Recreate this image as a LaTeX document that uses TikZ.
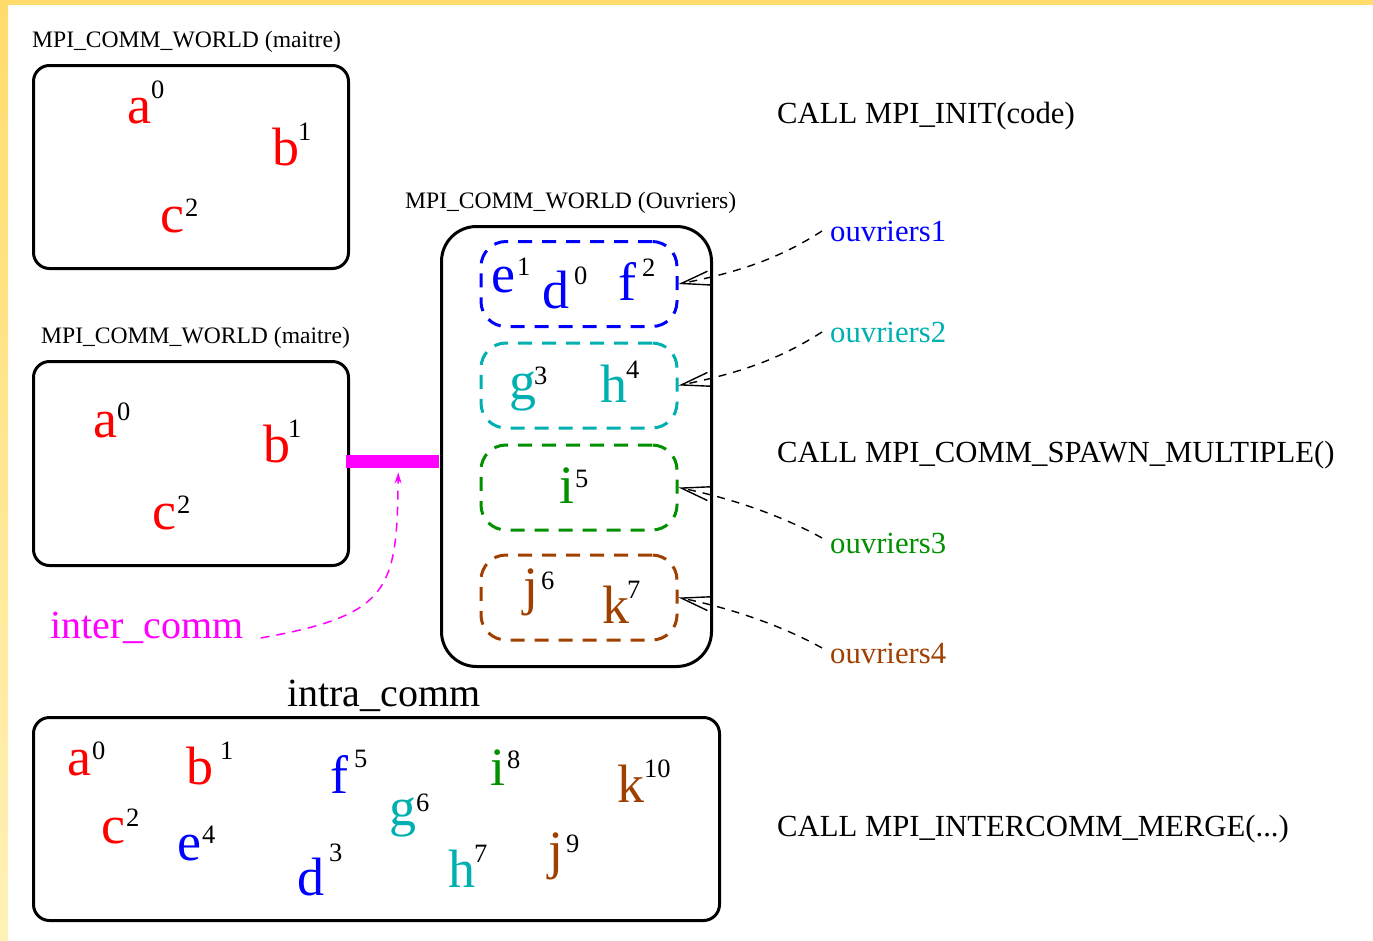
\documentclass[tikz,border=0pt]{standalone}
\usepackage{fontspec}
\setmainfont{Liberation Serif}
\usetikzlibrary{arrows.meta}
\definecolor{fcyan}{HTML}{00B0B0}
\definecolor{fgreen}{HTML}{009000}
\definecolor{fbrown}{HTML}{A04000}
\definecolor{fmagenta}{HTML}{FF00FF}
\definecolor{fyellow}{HTML}{FFDC6C}
\definecolor{fpale}{HTML}{FFF2B8}
\begin{document}
\begin{tikzpicture}[x=1pt,y=-1pt,
  lt/.style={font=\fontsize{54}{54}\selectfont, inner sep=0pt, anchor=base west},
  sp/.style={font=\fontsize{26.5}{27}\selectfont, inner sep=0pt, anchor=base west, text=black},
  wtitle/.style={font=\fontsize{23.6}{24}\selectfont, inner sep=0pt, anchor=base west},
  calltext/.style={font=\fontsize{30.7}{31}\selectfont, inner sep=0pt, anchor=base west},
  bigtext/.style={font=\fontsize{40}{40}\selectfont, inner sep=0pt, anchor=base west},
  comm/.style={draw=black, line width=3pt, rounded corners=16pt, inner sep=0pt, anchor=north west},
  grp/.style={line width=3pt, dash pattern=on 14pt off 10pt, rounded corners=25pt, minimum width=196pt, minimum height=85pt, inner sep=0pt},
  lnk/.style={draw=black, line width=1.4pt, dash pattern=on 8pt off 7pt, -{Straight Barb[length=28pt,width=14pt]}},
]
\useasboundingbox (0,0) rectangle (1373,940);
\fill[white] (0,0) rectangle (1373,940);
\fill[fyellow] (0,0) rectangle (1373,5);
\shade[top color=fyellow, bottom color=fpale] (0,0) rectangle (8,940);

% ---- box 1: MPI_INIT
\node[wtitle] (l1) at (32,47) {MPI\_COMM\_WORLD (maitre)};
\node[comm, minimum width=315pt, minimum height=203pt] (w1) at (32,64) {};
\node[lt, text=red] (a1) at (127,123) {a}; \node[sp] (a1s) at (151,98) {0};
\node[lt, text=red] (b1) at (272,165) {b}; \node[sp] (b1s) at (298,140) {1};
\node[lt, text=red] (c1) at (160,232) {c}; \node[sp] (c1s) at (185,216) {2};
\node[calltext] (call1) at (777,123) {CALL MPI\_INIT(code)};

% ---- box 2: master after spawn
\node[wtitle] (l2) at (41,343) {MPI\_COMM\_WORLD (maitre)};
\node[comm, minimum width=315pt, minimum height=204pt] (w2) at (32,360) {};
\node[lt, text=red] (a2) at (93,437) {a}; \node[sp] (a2s) at (117,420) {0};
\node[lt, text=red] (b2) at (263,462) {b}; \node[sp] (b2s) at (288,437) {1};
\node[lt, text=red] (c2) at (152,529) {c}; \node[sp] (c2s) at (177,513) {2};

% ---- inter communicator bar
\node[fill=fmagenta, minimum width=93pt, minimum height=13pt, inner sep=0pt, anchor=north west] (bar) at (346,455) {};
\node[bigtext, text=fmagenta] (ic) at (50,638) {inter\_comm};
\draw[fmagenta, line width=1.5pt, dash pattern=on 9pt off 7pt, -{Stealth[length=11pt,width=7pt]}]
  ([xshift=17pt]ic.base east) .. controls (390,615) and (397,590) .. ([xshift=5.5pt,yshift=-4pt]bar.south);

% ---- workers
\node[wtitle] (l3) at (405,208) {MPI\_COMM\_WORLD (Ouvriers)};
\node[draw=black, line width=3pt, rounded corners=35pt, minimum width=270pt, minimum height=440pt, inner sep=0pt, anchor=north west] (ouv) at (440,225) {};

\node[grp, draw=blue] (g1) at (579,284) {};
\node[grp, draw=fcyan] (g2) at (579,385.5) {};
\node[grp, draw=fgreen] (g3) at (579,487.5) {};
\node[grp, draw=fbrown] (g4) at (579,597.5) {};

\node[lt, text=blue] (e1) at (491,292) {e}; \node[sp] (e1s) at (517,275) {1};
\node[lt, text=blue] (d1) at (542,308) {d}; \node[sp] (d1s) at (574,284) {0};
\node[lt, text=blue] (f1) at (618,300) {f}; \node[sp] (f1s) at (642,276) {2};
\node[lt, text=fcyan] (g5) at (509,399) {g}; \node[sp] (g5s) at (534,384) {3};
\node[lt, text=fcyan] (h1) at (600,402) {h}; \node[sp] (h1s) at (626,378) {4};
\node[lt, text=fgreen] (i1) at (559,503) {i}; \node[sp] (i1s) at (575,487) {5};
\node[lt, text=fbrown] (j1) at (523,604) {j}; \node[sp] (j1s) at (541,589) {6};
\node[lt, text=fbrown] (k1) at (602,623) {k}; \node[sp] (k1s) at (627,598) {7};

\node[calltext, text=blue] (o1) at (830,241) {ouvriers1};
\node[calltext, text=fcyan] (o2) at (830,342) {ouvriers2};
\node[calltext, text=fgreen] (o3) at (830,553) {ouvriers3};
\node[calltext, text=fbrown] (o4) at (830,663) {ouvriers4};

\draw[lnk] ([xshift=-8pt]o1.west) .. controls (780,258) and (740,272) .. (g1.east);
\draw[lnk] ([xshift=-8pt]o2.west) .. controls (780,359) and (740,373) .. (g2.east);
\draw[lnk] ([xshift=-8pt,yshift=5pt]o3.west) .. controls (790,520) and (740,500) .. (g3.east);
\draw[lnk] ([xshift=-8pt,yshift=5pt]o4.west) .. controls (790,630) and (740,610) .. (g4.east);

\node[calltext] (call2) at (777,462) {CALL MPI\_COMM\_SPAWN\_MULTIPLE()};

% ---- intra communicator
\node[bigtext] (intra) at (287,706) {intra\_comm};
\node[comm, minimum width=686pt, minimum height=203pt] (w3) at (32,716) {};
\node[lt, text=red] (a3) at (67,775) {a}; \node[sp] (a3s) at (92,759) {0};
\node[lt, text=red] (b3) at (186,784) {b}; \node[sp] (b3s) at (220,759) {1};
\node[lt, text=red] (c3) at (101,843) {c}; \node[sp] (c3s) at (126,826) {2};
\node[lt, text=blue] (e3) at (177,860) {e}; \node[sp] (e3s) at (202,843) {4};
\node[lt, text=blue] (f3) at (330,793) {f}; \node[sp] (f3s) at (354,767) {5};
\node[lt, text=blue] (d3) at (297,895) {d}; \node[sp] (d3s) at (329,861) {3};
\node[lt, text=fcyan] (g3b) at (389,825) {g}; \node[sp] (g3bs) at (416,811) {6};
\node[lt, text=fcyan] (h3) at (448,887) {h}; \node[sp] (h3s) at (474,862) {7};
\node[lt, text=fgreen] (i3) at (490,785) {i}; \node[sp] (i3s) at (507,768) {8};
\node[lt, text=fbrown] (j3) at (548,868) {j}; \node[sp] (j3s) at (566,852) {9};
\node[lt, text=fbrown] (k3) at (617,802) {k}; \node[sp] (k3s) at (644,777) {10};
\node[calltext] (call3) at (777,836) {CALL MPI\_INTERCOMM\_MERGE(...)};
\end{tikzpicture}
\end{document}
